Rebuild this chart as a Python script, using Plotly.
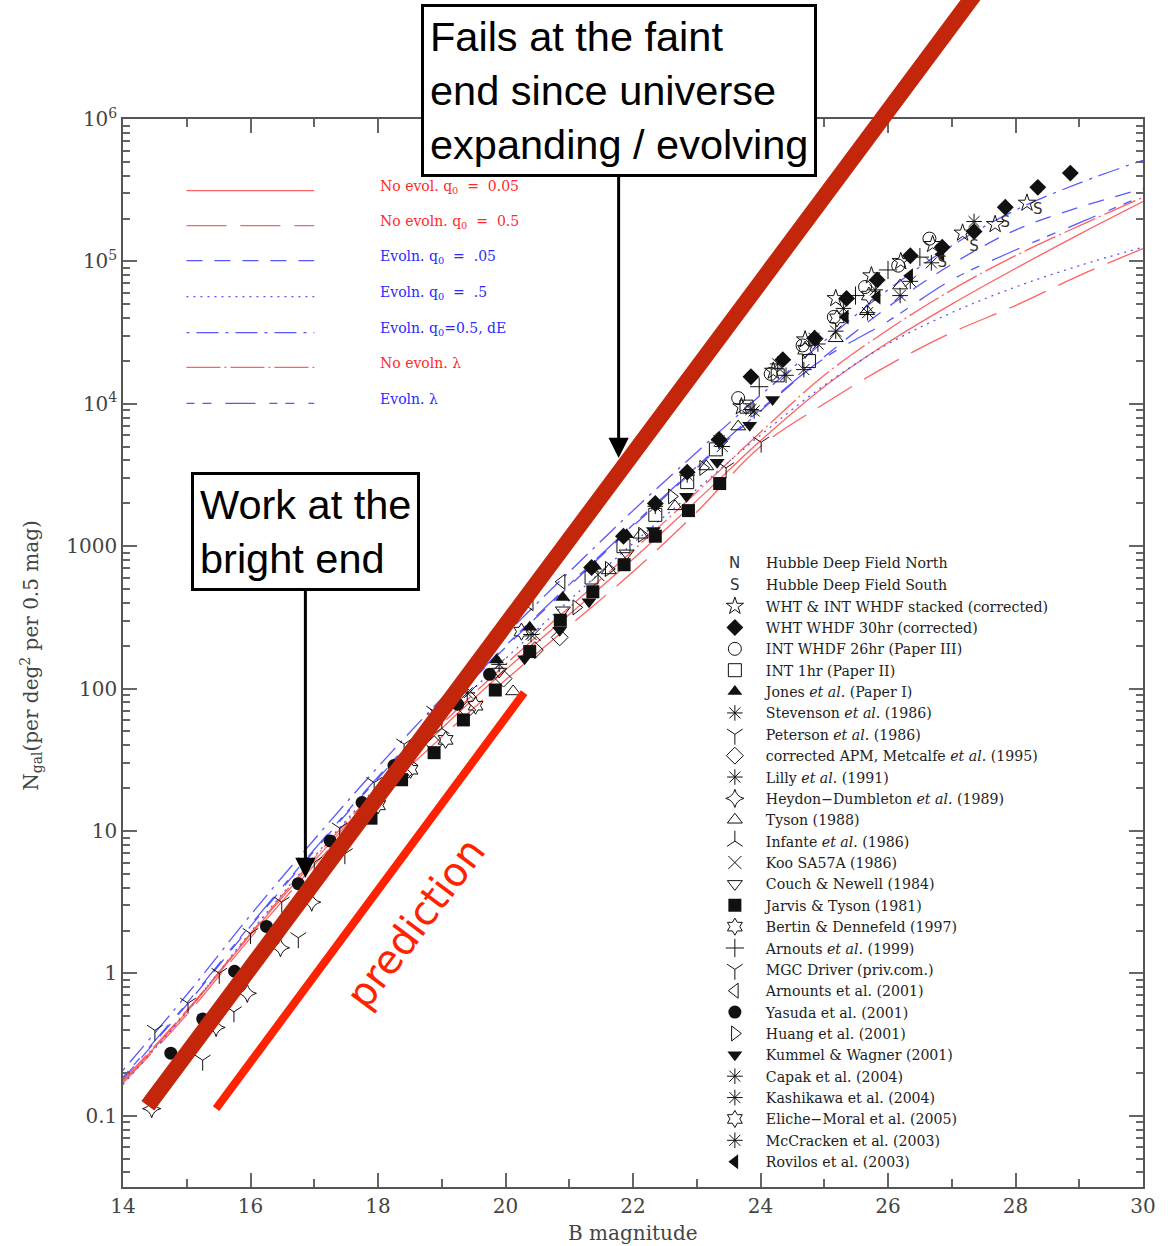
import numpy as np
import plotly.graph_objects as go

# ---------------- model curves (log10 N at integer B magnitudes) ----------------
mag_grid = [14, 15, 16, 17, 18, 19, 20, 21, 22, 23, 24, 25, 26, 27, 28, 29, 30]
noevol_q005_logN = [-0.76, -0.27, 0.27, 0.79, 1.28, 1.72, 2.13, 2.52, 2.91, 3.32, 3.74, 4.12, 4.43, 4.70, 4.95, 5.19, 5.42]
noevol_q05_logN = [-0.77, -0.29, 0.25, 0.76, 1.24, 1.66, 2.06, 2.44, 2.82, 3.24, 3.70, 4.00, 4.27, 4.50, 4.69, 4.90, 5.09]
evol_q005_logN = [-0.74, -0.22, 0.33, 0.86, 1.37, 1.84, 2.29, 2.72, 3.14, 3.55, 3.95, 4.33, 4.68, 4.98, 5.22, 5.38, 5.51]
evol_q05_logN = [-0.78, -0.27, 0.29, 0.82, 1.32, 1.78, 2.21, 2.62, 3.02, 3.40, 3.78, 4.13, 4.42, 4.64, 4.82, 4.97, 5.10]
evol_q05_dE_logN = [-0.68, -0.15, 0.41, 0.94, 1.45, 1.93, 2.38, 2.82, 3.25, 3.66, 4.06, 4.44, 4.80, 5.11, 5.36, 5.55, 5.71]
noevol_lambda_logN = [-0.75, -0.26, 0.28, 0.81, 1.30, 1.75, 2.17, 2.57, 2.97, 3.38, 3.80, 4.20, 4.52, 4.80, 5.04, 5.25, 5.45]
evol_lambda_logN = [-0.73, -0.21, 0.34, 0.87, 1.38, 1.85, 2.30, 2.73, 3.15, 3.56, 3.96, 4.32, 4.58, 4.87, 5.08, 5.27, 5.46]

model_labels = ["No evol. q<sub>0</sub>  =  0.05", "No evoln. q<sub>0</sub>  =  0.5",
                "Evoln. q<sub>0</sub>  =  .05", "Evoln. q<sub>0</sub>  =  .5",
                "Evoln. q<sub>0</sub>=0.5, dE", "No evoln. \u03bb", "Evoln. \u03bb"]

# ---------------- observed counts (B mag, log10 N) ----------------
hdfs_mag = [26.85, 27.35, 27.84, 28.35]
hdfs_logN = [4.99, 5.10, 5.27, 5.36]
whtint_mag = [23.70, 24.20, 24.70, 25.18, 25.74, 26.20, 26.70, 27.17, 27.68, 28.18]
whtint_logN = [3.98, 4.23, 4.45, 4.74, 4.90, 5.00, 5.12, 5.20, 5.26, 5.41]
wht30_mag = [21.35, 21.85, 22.35, 22.85, 23.35, 23.85, 24.35, 24.85, 25.35, 25.83, 26.35, 26.85, 27.35, 27.84, 28.35, 28.86]
wht30_logN = [2.85, 3.07, 3.30, 3.52, 3.75, 4.19, 4.31, 4.46, 4.74, 4.87, 5.04, 5.10, 5.21, 5.38, 5.52, 5.62]
int26_mag = [23.65, 24.16, 24.66, 25.15, 25.64, 26.16, 26.65]
int26_logN = [4.04, 4.21, 4.41, 4.61, 4.82, 4.97, 5.16]
int1_mag = [21.35, 21.85, 22.35, 22.85, 23.30, 23.78, 24.27, 24.76]
int1_logN = [2.78, 3.00, 3.22, 3.45, 3.68, 3.98, 4.20, 4.30]
jones_mag = [19.86, 20.38, 20.90, 21.40, 21.90]
jones_logN = [2.20, 2.43, 2.64, 2.86, 3.08]
stevenson_mag = [18.90, 19.40, 19.90, 20.40]
stevenson_logN = [1.82, 1.97, 2.17, 2.38]
peterson_mag = [15.25, 15.74, 16.75, 17.48]
peterson_logN = [-0.61, -0.27, 0.25, 0.84]
apm_mag = [18.40, 18.88, 19.40, 19.97, 20.46, 20.85]
apm_logN = [1.40, 1.61, 1.85, 2.07, 2.27, 2.36]
lilly_mag = [22.35, 22.85, 23.35, 23.85]
lilly_logN = [3.28, 3.50, 3.74, 3.96]
heydon_mag = [14.45, 15.46, 15.95, 16.47, 16.96]
heydon_logN = [-0.95, -0.38, -0.14, 0.18, 0.50]
tyson_mag = [20.12, 21.62, 22.12, 22.66, 23.15, 23.65, 25.18, 25.67, 26.19]
tyson_logN = [1.98, 2.83, 3.08, 3.28, 3.56, 3.84, 4.46, 4.65, 4.83]
infante_mag = [18.00, 18.50, 19.00]
infante_logN = [1.25, 1.50, 1.72]
koo_mag = [19.45, 20.45, 21.45]
koo_logN = [1.98, 2.38, 2.80]
couch_mag = [19.90, 20.90, 21.90]
couch_logN = [2.12, 2.55, 2.95]
jarvis_mag = [17.89, 18.37, 18.88, 19.34, 19.84, 20.38, 20.86, 21.37, 21.86, 22.35, 22.87, 23.36]
jarvis_logN = [1.09, 1.36, 1.55, 1.78, 1.99, 2.26, 2.48, 2.68, 2.87, 3.07, 3.25, 3.44]
bertin_mag = [18.00, 18.51, 19.06, 19.53, 20.25]
bertin_logN = [1.18, 1.43, 1.64, 1.88, 2.40]
arnouts99_mag = [23.98, 25.49, 26.00, 26.50]
arnouts99_logN = [4.12, 4.76, 4.94, 5.03]
mgc_mag = [14.50, 15.02, 15.51, 16.00, 16.49, 17.00, 17.40, 17.94, 18.41, 18.88, 23.46, 24.01]
mgc_logN = [-0.40, -0.21, 0.00, 0.28, 0.50, 0.78, 1.02, 1.34, 1.61, 1.84, 3.55, 3.73]
arnouts01_mag = [20.38, 20.88]
arnouts01_logN = [2.60, 2.75]
yasuda_mag = [14.75, 15.25, 15.75, 16.25, 16.75, 17.25, 17.75, 18.25, 18.75, 19.25, 19.75]
yasuda_logN = [-0.56, -0.32, 0.015, 0.33, 0.63, 0.93, 1.20, 1.46, 1.68, 1.89, 2.10]
huang_mag = [21.11, 21.62, 22.14, 22.61, 23.10]
huang_logN = [2.57, 2.84, 3.08, 3.35, 3.55]
kummel_mag = [20.30, 20.85, 21.31, 22.32, 22.84, 23.32, 23.83, 24.19]
kummel_logN = [2.21, 2.41, 2.61, 3.11, 3.35, 3.59, 3.85, 4.03]
capak_mag = [24.27, 24.84, 25.30, 25.80, 26.35]
capak_logN = [4.28, 4.46, 4.67, 4.80, 4.86]
kashikawa_mag = [24.68, 25.18, 25.68, 26.19, 26.68, 27.35]
kashikawa_logN = [4.24, 4.51, 4.64, 4.76, 4.99, 5.28]
eliche_mag = [24.70, 25.20, 25.70]
eliche_logN = [4.38, 4.60, 4.76]
mccracken_mag = [23.40, 23.90, 24.40, 24.90]
mccracken_logN = [3.70, 3.95, 4.20, 4.42]
rovilos_mag = [25.33, 25.83, 26.34, 26.83]
rovilos_logN = [4.61, 4.75, 4.90, 5.05]

# overlay lines (B mag, log10 N at both ends)
thick_line_mag = [14.39, 27.50]
thick_line_logN = [-0.93, 6.96]
prediction_mag = [15.46, 20.34]
prediction_logN = [-0.95, 2.00]

# ---------------- figure ----------------
L, R, T, B = 123, 1152, 119, 1187


def px(x):
    return (x - L) / (R - L)


def py(y):
    return (B - y) / (B - T)


RED = "rgba(255,80,80,0.9)"
BLUE = "rgba(70,70,255,0.9)"
model_specs = [
    (noevol_q005_logN, RED, "solid"),
    (noevol_q05_logN, RED, "40px,14px"),
    (evol_q005_logN, BLUE, "16px,12px"),
    (evol_q05_logN, BLUE, "2px,5px"),
    (evol_q05_dE_logN, BLUE, "3px,7px,22px,7px"),
    (noevol_lambda_logN, RED, "34px,4px,2px,4px"),
    (evol_lambda_logN, BLUE, "8px,8px,9px,14px,30px,14px"),
]

fig = go.Figure()
for logn, color, dash in model_specs:
    fig.add_trace(go.Scatter(x=mag_grid, y=np.power(10.0, logn), mode="lines",
                             line=dict(color=color, width=1.3, dash=dash, shape="spline"),
                             showlegend=False, hoverinfo="skip"))

dataset_specs = [
    ("WHT &amp; INT WHDF stacked (corrected)", "star-open", whtint_mag, whtint_logN),
    ("WHT WHDF 30hr (corrected)", "diamond", wht30_mag, wht30_logN),
    ("INT WHDF 26hr (Paper III)", "circle-open", int26_mag, int26_logN),
    ("INT 1hr (Paper II)", "square-open", int1_mag, int1_logN),
    ("Jones <i>et al.</i> (Paper I)", "triangle-up", jones_mag, jones_logN),
    ("Stevenson <i>et al.</i> (1986)", "asterisk-open", stevenson_mag, stevenson_logN),
    ("Peterson <i>et al.</i> (1986)", "y-down-open", peterson_mag, peterson_logN),
    ("corrected APM, Metcalfe <i>et al.</i> (1995)", "diamond-open", apm_mag, apm_logN),
    ("Lilly <i>et al.</i> (1991)", "asterisk-open", lilly_mag, lilly_logN),
    ("Heydon\u2212Dumbleton <i>et al.</i> (1989)", "star-diamond-open", heydon_mag, heydon_logN),
    ("Tyson (1988)", "triangle-up-open", tyson_mag, tyson_logN),
    ("Infante <i>et al.</i> (1986)", "y-up-open", infante_mag, infante_logN),
    ("Koo SA57A (1986)", "x-thin-open", koo_mag, koo_logN),
    ("Couch &amp; Newell (1984)", "triangle-down-open", couch_mag, couch_logN),
    ("Jarvis &amp; Tyson (1981)", "square", jarvis_mag, jarvis_logN),
    ("Bertin &amp; Dennefeld (1997)", "hexagram-open", bertin_mag, bertin_logN),
    ("Arnouts <i>et al.</i> (1999)", "cross-thin-open", arnouts99_mag, arnouts99_logN),
    ("MGC Driver (priv.com.)", "y-down-open", mgc_mag, mgc_logN),
    ("Arnounts et al. (2001)", "triangle-left-open", arnouts01_mag, arnouts01_logN),
    ("Yasuda et al. (2001)", "circle", yasuda_mag, yasuda_logN),
    ("Huang et al. (2001)", "triangle-right-open", huang_mag, huang_logN),
    ("Kummel &amp; Wagner (2001)", "triangle-down", kummel_mag, kummel_logN),
    ("Capak et al. (2004)", "asterisk-open", capak_mag, capak_logN),
    ("Kashikawa et al. (2004)", "asterisk-open", kashikawa_mag, kashikawa_logN),
    ("Eliche\u2212Moral et al. (2005)", "hexagram-open", eliche_mag, eliche_logN),
    ("McCracken et al. (2003)", "asterisk-open", mccracken_mag, mccracken_logN),
    ("Rovilos et al. (2003)", "triangle-left", rovilos_mag, rovilos_logN),
]

for label, sym, mags, logn in dataset_specs:
    is_open = sym.endswith("-open")
    fig.add_trace(go.Scatter(
        x=mags, y=np.power(10.0, logn), mode="markers", name=label,
        marker=dict(symbol=sym, size=13, color="#111",
                    line=dict(color="#111", width=1 if is_open else 0)),
        hoverinfo="skip"))

fig.add_trace(go.Scatter(x=hdfs_mag, y=np.power(10.0, hdfs_logN), mode="text",
                         text=["S"] * len(hdfs_mag),
                         textfont=dict(family="DejaVu Sans", size=15, color="#333"),
                         showlegend=False, hoverinfo="skip"))

serif = "DejaVu Serif"
annotations = []

# thick "Euclidean" line and prediction line (drawn through the axes)
annotations.append(dict(x=thick_line_mag[0], y=thick_line_logN[0], xref="x", yref="y",
                        ax=thick_line_mag[1], ay=thick_line_logN[1], axref="x", ayref="y",
                        text=" ", showarrow=True, arrowhead=0, arrowwidth=16,
                        arrowcolor="#C4260C"))
annotations.append(dict(x=prediction_mag[0], y=prediction_logN[0], xref="x", yref="y",
                        ax=prediction_mag[1], ay=prediction_logN[1], axref="x", ayref="y",
                        text=" ", showarrow=True, arrowhead=0, arrowwidth=8,
                        arrowcolor="#FF2200"))

# custom legend for the model curves
row_y = [190.7, 225.7, 260.7, 296.7, 332.7, 367.3, 403.3]
shapes = []
for (logn, color, dash), lab, yy in zip(model_specs, model_labels, row_y):
    shapes.append(dict(type="line", xref="paper", yref="paper", x0=px(187), x1=px(316),
                       y0=py(yy), y1=py(yy), line=dict(color=color, width=1.3, dash=dash)))
    tcol = "#FF2A2A" if color == RED else "#2A2AFF"
    annotations.append(dict(x=px(380), y=py(yy - 4), xref="paper", yref="paper",
                            xanchor="left", yanchor="middle", text=lab, showarrow=False,
                            font=dict(family=serif, size=14, color=tcol)))

# manual legend rows for the letter symbols
for sym_txt, lab, yy in [("N", "Hubble Deep Field North", 563.3), ("S", "Hubble Deep Field South", 584.7)]:
    annotations.append(dict(x=px(740), y=py(yy), xref="paper", yref="paper", xanchor="center",
                            yanchor="middle", text=sym_txt, showarrow=False,
                            font=dict(family="DejaVu Sans", size=15, color="#333")))
    annotations.append(dict(x=px(770), y=py(yy), xref="paper", yref="paper", xanchor="left",
                            yanchor="middle", text=lab, showarrow=False,
                            font=dict(family=serif, size=14.13, color="#222")))

# text boxes with arrows
annotations.append(dict(x=px(623), y=py(458), xref="paper", yref="paper",
                        ax=0, ay=90 - 458, text="Fails at the faint<br>end since universe<br>expanding / evolving",
                        align="left", showarrow=True, arrowhead=2, arrowwidth=3, arrowsize=1.35,
                        arrowcolor="black", bordercolor="black", borderwidth=3, borderpad=6,
                        bgcolor="white", font=dict(family="Liberation Sans", size=41.5, color="black")))
annotations.append(dict(x=px(307), y=py(878), xref="paper", yref="paper",
                        ax=0, ay=531 - 878, text="Work at the<br>bright end",
                        align="left", showarrow=True, arrowhead=2, arrowwidth=3, arrowsize=1.35,
                        arrowcolor="black", bordercolor="black", borderwidth=3, borderpad=6,
                        bgcolor="white", font=dict(family="Liberation Sans", size=41.5, color="black")))

annotations.append(dict(x=px(418), y=py(923), xref="paper", yref="paper", text="prediction",
                        xanchor="center", yanchor="middle",
                        textangle=-53, showarrow=False,
                        font=dict(family="DejaVu Sans", size=40, color="#FF2200")))

# axis titles
annotations.append(dict(x=px(30), y=py(655), xref="paper", yref="paper", textangle=-90,
                        xanchor="center", yanchor="middle",
                        text="N<sub>gal</sub>(per deg<sup>2</sup> per 0.5 mag)", showarrow=False,
                        font=dict(family=serif, size=20, color="#444")))
annotations.append(dict(x=px(637), y=py(1233), xref="paper", yref="paper",
                        xanchor="center", yanchor="middle",
                        text="B magnitude", showarrow=False,
                        font=dict(family=serif, size=20, color="#444")))

ytick_vals = [0.1, 1, 10, 100, 1000, 1e4, 1e5, 1e6]
ytick_text = ["0.1", "1", "10", "100", "1000", "10<sup>4</sup>", "10<sup>5</sup>", "10<sup>6</sup>"]
yminor_vals = [k * 10.0 ** e for e in range(-2, 6) for k in range(2, 10)]

fig.update_layout(
    width=1168, height=1246,
    margin=dict(l=L, r=1168 - R, t=T, b=1246 - B),
    paper_bgcolor="white", plot_bgcolor="white",
    showlegend=True,
    legend=dict(x=px(709), y=py(590.4), xanchor="left", yanchor="top",
                bgcolor="rgba(0,0,0,0)", borderwidth=0, itemwidth=52,
                font=dict(family=serif, size=14.13, color="#222")),
    xaxis=dict(range=[14, 30], tickmode="linear", tick0=14, dtick=2,
               ticks="inside", ticklen=14, tickwidth=1.5, tickcolor="#666",
               showline=True, linecolor="#555", linewidth=1.5, mirror="ticks",
               showgrid=False, zeroline=False,
               tickfont=dict(family=serif, size=20, color="#444"),
               minor=dict(dtick=1, tick0=14, ticks="inside", ticklen=8, tickwidth=1.5, tickcolor="#666")),
    yaxis=dict(type="log", range=[-1.5, 6], tickmode="array", tickvals=ytick_vals, ticktext=ytick_text,
               ticks="inside", ticklen=14, tickwidth=1.5, tickcolor="#666",
               showline=True, linecolor="#555", linewidth=1.5, mirror="ticks",
               showgrid=False, zeroline=False,
               tickfont=dict(family=serif, size=20, color="#444"),
               minor=dict(tickmode="array", tickvals=yminor_vals, ticks="inside", ticklen=7,
                          tickwidth=1.5, tickcolor="#666")),
    shapes=shapes,
    annotations=annotations,
)

fig.write_html("out.html")
